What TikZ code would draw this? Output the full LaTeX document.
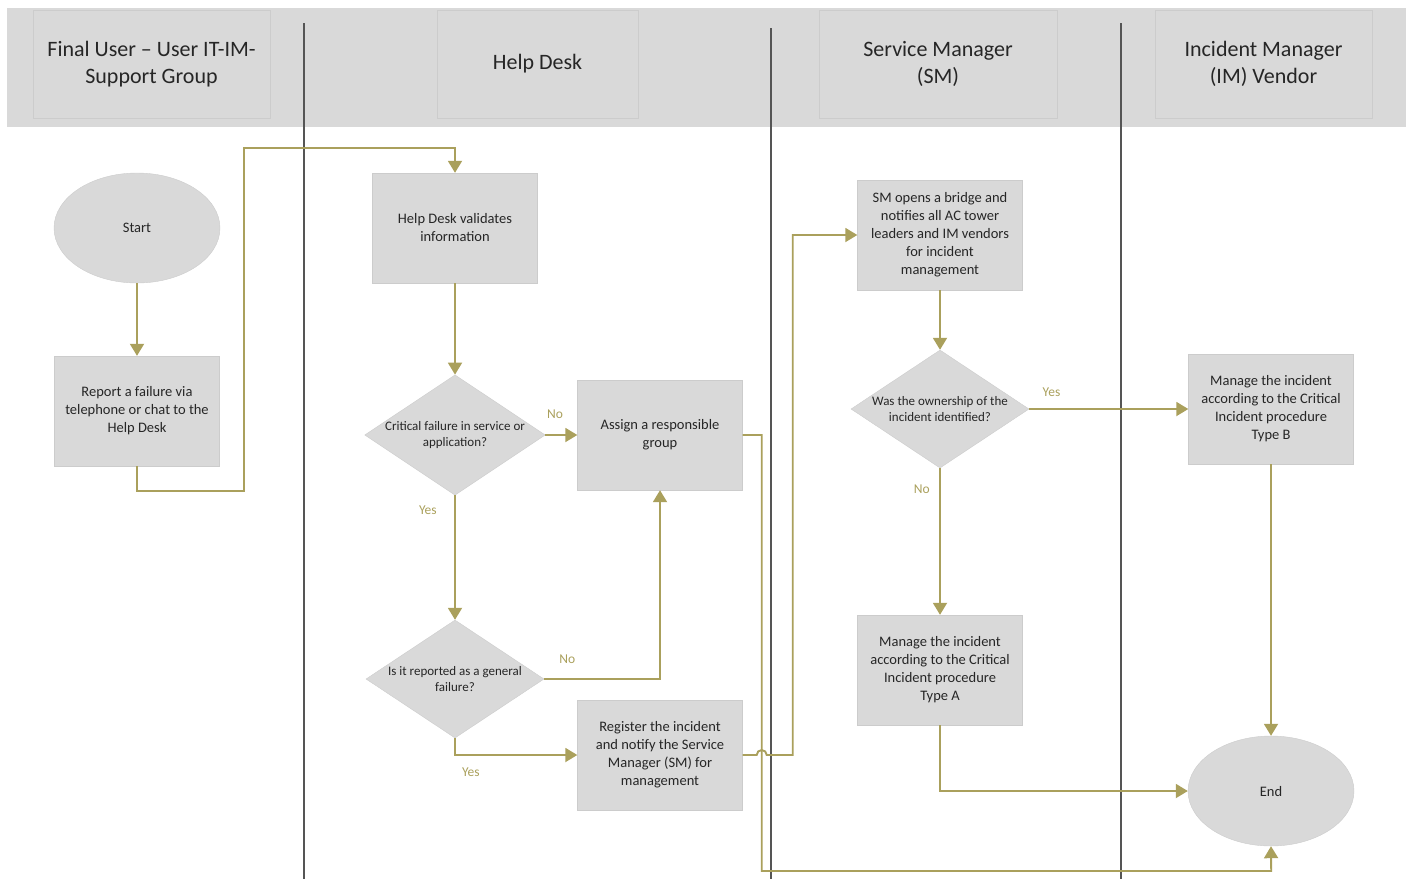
\documentclass[tikz,border=0pt]{standalone}
\usepackage{fontspec}
\setmainfont{Carlito}
\usetikzlibrary{shapes.geometric,arrows.meta,positioning}

\definecolor{bandgray}{RGB}{217,217,217}
\definecolor{boxgray}{RGB}{217,217,217}
\definecolor{boxline}{RGB}{204,204,204}
\definecolor{txtgray}{RGB}{38,38,38}
\definecolor{lanegray}{RGB}{85,85,85}
\definecolor{flowline}{RGB}{170,160,92}

\begin{document}
\begin{tikzpicture}[x=1pt,y=-1pt,on grid,
    lanehead/.style={rectangle, fill=boxgray, draw=boxline, minimum height=108pt,
                     align=center, text=txtgray, font=\fontsize{22}{27}\selectfont},
    box/.style={rectangle, fill=boxgray, draw=boxline, minimum width=165pt,
                minimum height=110pt, align=center, text=txtgray,
                font=\fontsize{14.5}{18}\selectfont},
    term/.style={ellipse, fill=boxgray, draw=boxline, minimum width=166pt,
                 minimum height=110pt, inner sep=0pt, text=txtgray,
                 font=\fontsize{14.5}{18}\selectfont},
    decision/.style={diamond, aspect=1.5, fill=boxgray, draw=boxline, inner sep=0pt,
                     minimum width=178pt, minimum height=118pt, align=center,
                     text=txtgray, font=\fontsize{13}{16}\selectfont},
    flow/.style={color=flowline, line width=1.9pt,
                 -{Triangle[length=12pt,width=14pt,fill=flowline]}},
    lbl/.style={text=flowline, font=\fontsize{13.5}{16}\selectfont},
    laneline/.style={draw=lanegray, line width=1.2pt}]
  \useasboundingbox (0,0) rectangle (1410,879);

  % swimlane header
  \fill[bandgray] (7,8) rectangle (1406,127);
  \node[lanehead, minimum width=237pt] (hUser) at (151.5,64)  {Final User -- User IT-IM-\\Support Group};
  \node[lanehead, minimum width=201pt] (hDesk) at (537.5,64)  {Help Desk};
  \node[lanehead, minimum width=238pt] (hSM)   at (938,64)    {Service Manager\\(SM)};
  \node[lanehead, minimum width=217pt] (hIM)   at (1263.5,64) {Incident Manager\\(IM) Vendor};
  \draw[laneline] (304,23)  -- (304,879);
  \draw[laneline] (771,28)  -- (771,879);
  \draw[laneline] (1121,23) -- (1121,879);

  \node[term]     (start)  at (137,228)                        {Start};
  \node[box]      (report) [below=183pt of start]              {Report a failure via\\telephone or chat to the\\Help Desk};
  \node[box]      (hdval)  [right=318pt of start]              {Help Desk validates\\information};
  \node[decision] (d1)     [below=207pt of hdval]              {Critical failure in service or\\application?};
  \node[box]      (assign) [right=205pt of d1]                 {Assign a responsible\\group};
  \node[decision] (d2)     [below=244pt of d1]                 {Is it reported as a general\\failure?};
  \node[box]      (reg)    [below right=76pt and 205pt of d2]  {Register the incident\\and notify the Service\\Manager (SM) for\\management};
  \node[box]      (smopen) [below right=7pt and 485pt of hdval] {SM opens a bridge and\\notifies all AC tower\\leaders and IM vendors\\for incident\\management};
  \node[decision] (d3)     [below=174pt of smopen]             {Was the ownership of the\\incident identified?};
  \node[box]      (mgA)    [below=261pt of d3]                 {Manage the incident\\according to the Critical\\Incident procedure\\Type A};
  \node[box]      (mgB)    [right=331pt of d3]                 {Manage the incident\\according to the Critical\\Incident procedure\\Type B};
  \node[term]     (stop)   [below=382pt of mgB]                {End};

  \path [flow]
  (start)  edge                                         (report)
  (hdval)  edge                                         (d1)
  (d1)     edge node[lbl, above=12pt, pos=0.3]  {No}    (assign)
  (d1)     edge node[lbl, left=14pt, pos=0.12]  {Yes}   (d2)
  (smopen) edge                                         (d3)
  (d3)     edge node[lbl, above=8pt, pos=0.14]  {Yes}   (mgB)
  (d3)     edge node[lbl, left=6pt, pos=0.14]   {No}    (mgA)
  (mgB)    edge                                         (stop);

  \draw[flow] (report.south) -- ++(0,25) -| ++(107,-343) -| (hdval.north);
  \draw[flow] (d2.east) -| node[lbl, above=11pt, pos=0.1] {No} (assign.south);
  \draw[flow] (d2.south) |- node[lbl, below=9pt, pos=0.565] {Yes} (reg.west);
  \draw[flow] (reg.east) -- ++(14,0) arc[start angle=180, end angle=360, radius=5]
              -- ++(26,0) |- (smopen.west);
  \draw[flow] (assign.east) -- ++(19,0) |- ++(509.5,436) -- (stop.south);
  \draw[flow] (mgA.south) |- (stop.west);
\end{tikzpicture}
\end{document}
